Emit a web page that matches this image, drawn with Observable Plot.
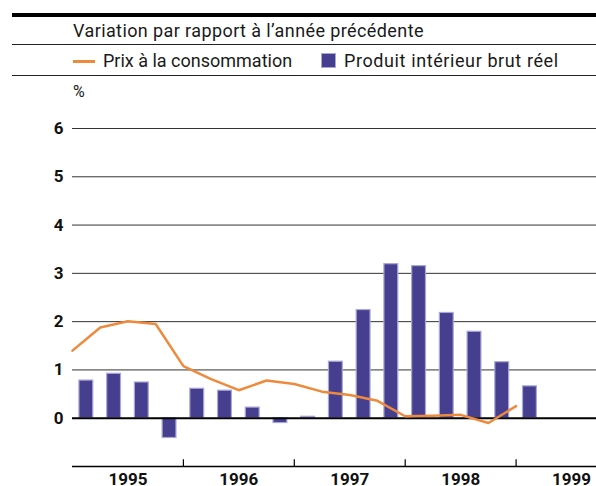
<!DOCTYPE html>
<html>
<head>
<meta charset="utf-8">
<script src="https://cdn.jsdelivr.net/npm/d3@7"></script>
<script src="https://cdn.jsdelivr.net/npm/@observablehq/plot@0.6"></script>
<style>
  body { margin:0; width:596px; height:486px; overflow:hidden; position:relative; background:#fff;
         font-family: Roboto, "Noto Sans", sans-serif; color:#1a1a1a; }
  .abs { position:absolute; }
  .hline { position:absolute; left:12px; right:0; background:#222; }
  .txt { position:absolute; font-size:18px; line-height:20px; white-space:nowrap; }
  #chart { position:absolute; left:0; top:78px; }
</style>
</head>
<body>
<div class="hline" style="top:13px;height:4px;background:#000"></div>
<div class="txt" style="left:73px;top:21px;letter-spacing:0.4px">Variation par rapport à l’année précédente</div>
<div class="hline" style="top:44px;height:1px"></div>
<div class="abs" style="left:73px;top:60px;width:22px;height:2.5px;background:#ee8a3c"></div>
<div class="txt" style="left:103px;top:51px">Prix à la consommation</div>
<div class="abs" style="left:321px;top:53px;width:13px;height:13px;background:#463f8f;border:1.5px solid #a9a7d6"></div>
<div class="txt" style="left:344px;top:51px;letter-spacing:0.6px">Produit intérieur brut réel</div>
<div class="hline" style="top:75px;height:1px"></div>
<div class="txt" style="left:73px;top:82px;font-size:16px">%</div>
<div id="chart"></div>
<script>
const quarters = ["1995T1","1995T2","1995T3","1995T4","1996T1","1996T2","1996T3","1996T4",
                  "1997T1","1997T2","1997T3","1997T4","1998T1","1998T2","1998T3","1998T4","1999T1"];
const pibReel = [0.78,0.92,0.74,-0.41,0.61,0.57,0.22,-0.10,0.03,1.17,2.24,3.19,3.15,2.18,1.79,1.16,0.66];
const prixConso = [1.40,1.88,2.01,1.95,1.08,0.81,0.58,0.78,0.71,0.55,0.48,0.36,0.04,0.05,0.07,-0.10,0.25];
const years = ["1995","1996","1997","1998","1999"];
const yTicks = [0,1,2,3,4,5,6];

const bars = quarters.map((q,i)=>({q, i, v:pibReel[i]}));
const line = quarters.map((q,i)=>({q, i, v:prixConso[i]}));
const yearData = years.map((y,i)=>({y, mid:4*i+2}));
const yearBounds = years.slice(1).map((y,i)=>4*(i+1));

const chart = Plot.plot({
  width:596, height:408,
  marginLeft:72, marginRight:0, marginTop:50, marginBottom:20,
  x:{domain:[0,18.9], axis:null},
  y:{domain:[-1,6], axis:null},
  style:{fontFamily:"Roboto, 'Noto Sans', sans-serif", overflow:"visible", background:"transparent"},
  marks:[
    Plot.ruleY(yTicks.filter(d=>d>0), {stroke:"#333", strokeWidth:1}),
    Plot.text(yTicks, {y:d=>d, text:d=>String(d), frameAnchor:"left", dx:-9, textAnchor:"end",
                       fontSize:17, fontWeight:"bold", fill:"#111"}),
    Plot.rectY(bars, {x1:d=>d.i+0.25, x2:d=>d.i+0.75, y1:0, y2:"v", fill:"#463f8f", stroke:"#a9a7d6", strokeWidth:1.2}),
    Plot.ruleY([0], {stroke:"#000", strokeWidth:2}),
    Plot.ruleY([-1], {stroke:"#000", strokeWidth:1.5}),
    Plot.ruleX(yearBounds, {y1:-1, y2:-0.86, stroke:"#000", strokeWidth:1.2}),
    Plot.line(line, {x:"i", y:"v", stroke:"#ee8a3c", strokeWidth:2.5}),
    Plot.text(yearData, {x:"mid", y:-1, text:"y", dy:6, lineAnchor:"top", fontSize:17, fontWeight:"bold", fill:"#111"})
  ]
});
document.getElementById("chart").appendChild(chart);
</script>
</body>
</html>
